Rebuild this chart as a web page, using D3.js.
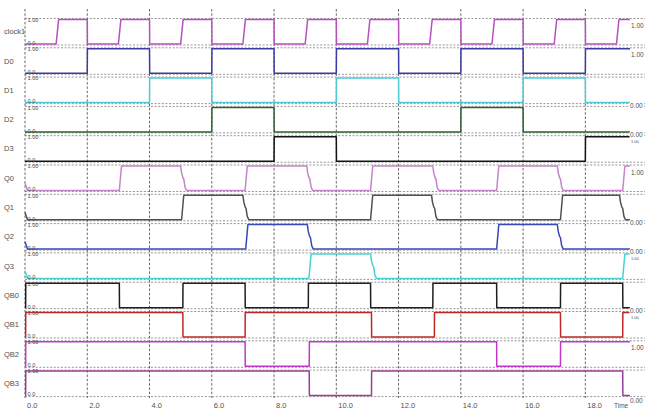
<!DOCTYPE html>
<html>
<head>
<meta charset="utf-8">
<script src="https://cdn.jsdelivr.net/npm/d3@7"></script>
<style>
  body { margin: 0; background: #fff; }
  svg { display: block; }
  text { font-family: Arial, "Liberation Sans", sans-serif; }
</style>
</head>
<body>
<svg id="chart" width="645" height="410"></svg>
<script>
// ---- Data: 4-bit counter timing diagram (times in µs) ----
const signalNames = ["clock1", "D0", "D1", "D2", "D3", "Q0", "Q1", "Q2", "Q3", "QB0", "QB1", "QB2", "QB3"];

// level of each trace at t = 0 (Q outputs start with a small settling transient)
const startLevels = [0, 0, 0, 0, 0, 0.3, 0.3, 0.3, 0.3, 0, 0, 0, 0];

// toggle times of each trace
const clock1Edges = [1, 2, 3, 4, 5, 6, 7, 8, 9, 10, 11, 12, 13, 14, 15, 16, 17, 18, 19];
const d0Edges = [2, 4, 6, 8, 10, 12, 14, 16, 18];
const d1Edges = [4, 6, 10, 12, 16, 18];
const d2Edges = [6, 8, 14, 16];
const d3Edges = [8, 10, 18];
const q0Edges = [3.03, 5.0, 7.07, 9.05, 11.1, 13.1, 15.15, 17.1, 19.2];
const q1Edges = [5.03, 7.0, 11.1, 13.06, 17.2, 19.1];
const q2Edges = [7.09, 9.07, 15.15, 17.1];
const q3Edges = [9.12, 11.1, 19.2];
const qb0Edges = [0.02, 3.03, 5.07, 7.07, 9.1, 11.1, 13.1, 15.15, 17.2, 19.2];
const qb1Edges = [0.02, 5.07, 7.07, 11.13, 13.15, 17.2, 19.2];
const qb2Edges = [0.02, 7.07, 9.13, 15.15, 17.2];
const qb3Edges = [0.02, 9.13, 11.13, 19.2];

const edgeLists = [clock1Edges, d0Edges, d1Edges, d2Edges, d3Edges,
                   q0Edges, q1Edges, q2Edges, q3Edges,
                   qb0Edges, qb1Edges, qb2Edges, qb3Edges];

// edge shape used by each trace
const edgeKinds = ["clock", "sharp", "sharp", "sharp", "sharp",
                   "q", "q", "q", "q",
                   "sharp", "sharp", "sharp", "sharp"];

const lineColors = ["#b84fc0", "#3c3ca6", "#4ccad8", "#2f5f2f", "#141414",
                    "#c585c8", "#505050", "#3848b8", "#48d2d2",
                    "#1e1e1e", "#c02828", "#c038c8", "#9a3c9a"];

const timeTicks = [0, 2, 4, 6, 8, 10, 12, 14, 16, 18];
const timeEnd = 20;

// ---- Layout ----
const svg = d3.select("#chart");
const W = 645, H = 410;
const x = d3.scaleLinear().domain([0, timeEnd]).range([25, 647.6]);
const rowTop = d3.scaleLinear().domain([0, 1]).range([19.5, 48.8]);   // row index -> y of the 1.00 level
const rowAmp = 24.5;
const plotRight = 630;

function rowScale(i) {
  const t = rowTop(i);
  return d3.scaleLinear().domain([0, 1]).range([t + rowAmp, t]);
}

// build the vertices of a trace from its start level and toggle times
function buildTrace(start, edges, kind) {
  const pts = [[0, start]];
  let v = start >= 0.5 ? 1 : 0;
  if (start !== 0 && start !== 1) { pts.push([0.08, 0]); v = 0; }
  edges.forEach(e => {
    const nv = 1 - v;
    if (nv === 1) {
      const dur = kind === "clock" ? 0.08 : kind === "q" ? 0.07 : 0.005;
      pts.push([e, v], [e + dur, nv]);
    } else if (kind === "q") {
      // staircase settling on falling outputs
      pts.push([e, 1], [e + 0.03, 0.72], [e + 0.07, 0.53], [e + 0.1, 0.47], [e + 0.14, 0.14], [e + 0.19, 0]);
    } else {
      pts.push([e, v], [e + 0.005, nv]);
    }
    v = nv;
  });
  pts.push([timeEnd, v]);
  return { pts, last: v };
}

const traces = signalNames.map((n, i) => buildTrace(startLevels[i], edgeLists[i], edgeKinds[i]));

// ---- Grid ----
const grid = svg.append("g");
signalNames.forEach((n, i) => {
  const y = rowScale(i);
  [y(1) - 1, y(0) + 1].forEach(yy => {
    grid.append("line")
      .attr("x1", x(0)).attr("x2", W)
      .attr("y1", yy).attr("y2", yy)
      .attr("stroke", "#8a8a8a").attr("stroke-width", 0.9)
      .attr("stroke-dasharray", "2,1.6");
  });
});
timeTicks.forEach(t => {
  grid.append("line")
    .attr("x1", x(t)).attr("x2", x(t))
    .attr("y1", 9).attr("y2", 398)
    .attr("stroke", "#555").attr("stroke-width", 0.9)
    .attr("stroke-dasharray", "2.5,1.8");
});

// ---- Traces ----
svg.append("clipPath").attr("id", "plotClip")
  .append("rect").attr("x", x(0) - 1).attr("y", 0).attr("width", plotRight - x(0) + 1).attr("height", H);

const traceG = svg.append("g").attr("clip-path", "url(#plotClip)");
traces.forEach((tr, i) => {
  const y = rowScale(i);
  const line = d3.line().x(d => x(d[0])).y(d => y(d[1]));
  traceG.append("path")
    .attr("d", line(tr.pts))
    .attr("fill", "none")
    .attr("stroke", lineColors[i])
    .attr("stroke-width", 1.5)
    .attr("stroke-linejoin", "round");
});

// ---- Labels ----
const labelG = svg.append("g").attr("fill", "#505050");
signalNames.forEach((n, i) => {
  const y = rowScale(i);
  // signal name
  labelG.append("text").attr("x", 4).attr("y", (y(0) + y(1)) / 2 + 2.5)
    .attr("font-size", 7.5).text(n);
  // left scale marks
  labelG.append("text").attr("x", x(0) + 2.5).attr("y", y(1) + 2.3)
    .attr("font-size", 5.6).text("1.00");
  labelG.append("text").attr("x", x(0) + 2.5).attr("y", y(0) + 0.8)
    .attr("font-size", 5.6).text("0.0");
});

// end values on the right
signalNames.forEach((n, i) => {
  const y = rowScale(i);
  const v = traces[i].last;
  if (v === 1) {
    const squeezed = i > 0 && traces[i - 1].last === 0;
    labelG.append("text").attr("x", plotRight + 1)
      .attr("y", squeezed ? y(1) + 6 : y(1) + 8.5)
      .attr("font-size", squeezed ? 4 : 6.5)
      .text("1.00");
  }
});
signalNames.forEach((n, i) => {
  const y = rowScale(i);
  if (traces[i].last === 0) {
    const ty = i === signalNames.length - 1 ? y(0) + 7 : y(0) + 5.3;
    labelG.append("rect").attr("x", plotRight - 0.5).attr("y", ty - 5.2)
      .attr("width", 14).attr("height", 5.6).attr("fill", "#fff");
    labelG.append("text").attr("x", plotRight).attr("y", ty)
      .attr("font-size", 6.5).text("0.00");
  }
});

// time axis
timeTicks.forEach(t => {
  labelG.append("text").attr("x", x(t) + 2).attr("y", 408)
    .attr("font-size", 7.5).text(t.toFixed(1));
});
labelG.append("text").attr("x", 614).attr("y", 408)
  .attr("font-size", 6.5).text("Time");
</script>
</body>
</html>
